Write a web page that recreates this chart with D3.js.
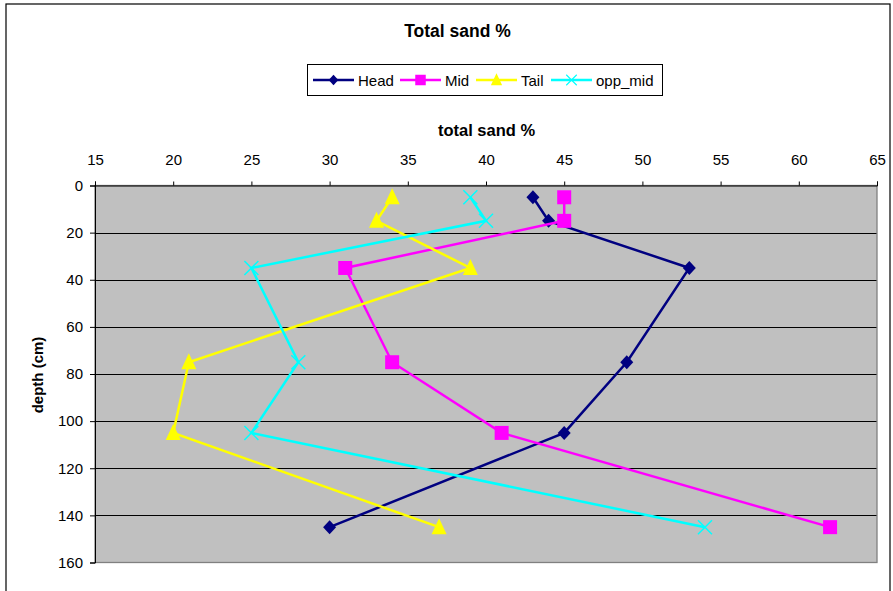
<!DOCTYPE html>
<html><head><meta charset="utf-8">
<script src="https://cdn.jsdelivr.net/npm/d3@7"></script>
<style>body{margin:0;background:#fff}svg{display:block;font-family:"Liberation Sans",Arial,sans-serif}</style>
</head><body><svg id="c" width="893" height="591"></svg>
<script>
const depths = [5, 15, 35, 75, 105, 145];
const head = [43, 44, 53, 49, 45, 30];
const mid = [45, 45, 31, 34, 41, 62];
const tail = [34, 33, 39, 21, 20, 37];
const oppMid = [39, 40, 25, 28, 25, 54];
const seriesNames = ["Head", "Mid", "Tail", "opp_mid"];
const seriesColors = ["#000080", "#FF00FF", "#FFFF00", "#00FFFF"];
const xTicks = [15, 20, 25, 30, 35, 40, 45, 50, 55, 60, 65];
const yTicks = [0, 20, 40, 60, 80, 100, 120, 140, 160];

const series = [head, mid, tail, oppMid].map((v, i) => ({name: seriesNames[i], color: seriesColors[i], values: v}));
const svg = d3.select("#c");
const L = 95, R = 877, T = 185.5, B = 562.5;
const x = d3.scaleLinear().domain([15, 65]).range([L, R]);
const y = d3.scaleLinear().domain([0, 160]).range([T, B]);

// chart frame
svg.append("rect").attr("x", 6).attr("y", 4).attr("width", 884).attr("height", 600)
  .attr("fill", "#fff").attr("stroke", "#000").attr("stroke-width", 1.2);

svg.append("rect").attr("x", L).attr("y", T).attr("width", R - L).attr("height", B - T)
  .attr("fill", "#C0C0C0");

// gridlines
svg.append("g").selectAll("line").data(yTicks.filter(d => d > 0 && d < 160)).join("line")
  .attr("x1", L).attr("x2", R).attr("y1", d => Math.round(y(d)) + 0.5).attr("y2", d => Math.round(y(d)) + 0.5)
  .attr("stroke", "#000").attr("stroke-width", 1);

svg.append("rect").attr("x", L).attr("y", T).attr("width", R - L).attr("height", B - T)
  .attr("fill", "none").attr("stroke", "#808080").attr("stroke-width", 1.3);

// axes
const xAxis = d3.axisTop(x).tickValues(xTicks).tickSize(4).tickPadding(16.5).tickFormat(d3.format("d"));
const gx = svg.append("g").attr("transform", `translate(0,${T})`).call(xAxis);
gx.select(".domain").attr("stroke", "#000");
gx.selectAll("line").attr("stroke", "#000");
gx.selectAll("text").attr("font-size", 15).attr("fill", "#000");

const yAxis = d3.axisLeft(y).tickValues(yTicks).tickSize(5).tickPadding(7);
const gy = svg.append("g").attr("transform", `translate(${L},0)`).call(yAxis);
gy.select(".domain").attr("stroke", "#000");
gy.selectAll("line").attr("stroke", "#000");
gy.selectAll("text").attr("font-size", 15).attr("fill", "#000");

// titles
svg.append("text").attr("x", 457.5).attr("y", 37).attr("text-anchor", "middle")
  .attr("font-size", 17.5).attr("font-weight", "bold").text("Total sand %");
svg.append("text").attr("x", 486.5).attr("y", 136).attr("text-anchor", "middle")
  .attr("font-size", 16.5).attr("font-weight", "bold").text("total sand %");
svg.append("text").attr("transform", "translate(42.5,375) rotate(-90)").attr("text-anchor", "middle")
  .attr("font-size", 15).attr("font-weight", "bold").text("depth (cm)");

// markers
function marker(g, i, cx, cy) {
  const c = seriesColors[i];
  if (i === 0) {
    g.append("path").attr("d", `M${cx},${cy - 7}L${cx + 6.5},${cy}L${cx},${cy + 7}L${cx - 6.5},${cy}Z`).attr("fill", c);
  } else if (i === 1) {
    g.append("rect").attr("x", cx - 7).attr("y", cy - 7).attr("width", 14).attr("height", 14).attr("fill", c);
  } else if (i === 2) {
    g.append("path").attr("d", `M${cx},${cy - 9}L${cx + 7.5},${cy + 7}L${cx - 7.5},${cy + 7}Z`).attr("fill", c);
  } else {
    g.append("path").attr("d", `M${cx - 7},${cy - 7}L${cx + 7},${cy + 7}M${cx + 7},${cy - 7}L${cx - 7},${cy + 7}`)
      .attr("stroke", c).attr("stroke-width", 1.5).attr("fill", "none");
  }
}

const line = d3.line().x(d => x(d.v)).y(d => y(d.d));
series.forEach((s, i) => {
  const pts = s.values.map((v, j) => ({v, d: depths[j]}));
  const g = svg.append("g");
  g.append("path").datum(pts).attr("d", line).attr("fill", "none")
    .attr("stroke", s.color).attr("stroke-width", 2.5);
  pts.forEach(p => marker(g, i, x(p.v), y(p.d)));
});

// legend
const lg = svg.append("g");
lg.append("rect").attr("x", 307.5).attr("y", 64.5).attr("width", 355).attr("height", 31)
  .attr("fill", "#fff").attr("stroke", "#000").attr("stroke-width", 1);
const legX = [313, 400, 476, 551];
series.forEach((s, i) => {
  const x0 = legX[i], ly = 80;
  lg.append("line").attr("x1", x0).attr("x2", x0 + 41).attr("y1", ly).attr("y2", ly)
    .attr("stroke", s.color).attr("stroke-width", 2.5);
  const mg = lg.append("g").attr("transform", `translate(${x0 + 20.5},${ly}) scale(0.75) translate(${-(x0 + 20.5)},${-ly})`);
  marker(mg, i, x0 + 20.5, ly);
  lg.append("text").attr("x", x0 + 45).attr("y", ly + 5.5).attr("font-size", 15).text(s.name);
});
</script></body></html>
